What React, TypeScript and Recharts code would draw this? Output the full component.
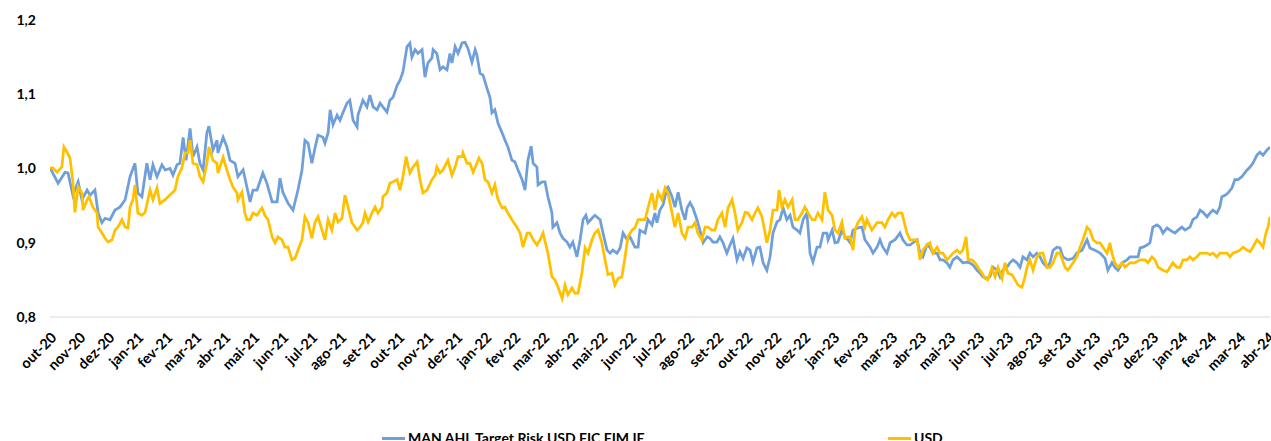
import React from "react";
import { LineChart, Line, XAxis, YAxis, Legend } from "recharts";

const months = [
  "out-20", "nov-20", "dez-20", "jan-21", "fev-21", "mar-21", "abr-21", "mai-21", "jun-21", "jul-21", "ago-21",
  "set-21", "out-21", "nov-21", "dez-21", "jan-22", "fev-22", "mar-22", "abr-22", "mai-22", "jun-22", "jul-22",
  "ago-22", "set-22", "out-22", "nov-22", "dez-22", "jan-23", "fev-23", "mar-23", "abr-23", "mai-23", "jun-23",
  "jul-23", "ago-23", "set-23", "out-23", "nov-23", "dez-23", "jan-24", "fev-24", "mar-24", "abr-24",
];

const yTicks = [0.8, 0.9, 1.0, 1.1, 1.2];

// [months since out-20, value]
const manAhl: [number, number][] = [
  [0.00,1.001],[0.28,0.98],[0.52,0.995],[0.62,0.994],[0.79,0.964],[0.97,0.982],[1.10,0.958],[1.28,0.971],[1.38,0.964],[1.55,0.971],[1.66,0.94],[1.79,0.927],[1.90,0.933],[2.07,0.931],[2.24,0.944],[2.41,0.948],[2.59,0.958],[2.76,0.989],[2.93,1.007],[3.03,0.967],[3.17,0.962],[3.34,1.007],[3.45,0.985],[3.55,1.005],[3.69,0.989],[3.86,1.005],[3.97,0.998],[4.14,1.0],[4.24,0.991],[4.38,1.005],[4.48,1.007],[4.59,1.042],[4.69,1.011],[4.83,1.054],[4.93,1.016],[5.07,1.029],[5.17,1.007],[5.28,0.998],[5.41,1.048],[5.48,1.057],[5.62,1.025],[5.76,1.038],[5.79,1.021],
  [5.97,1.042],[6.10,1.029],[6.21,1.011],[6.38,1.007],[6.48,0.989],[6.66,0.998],[6.79,0.975],[6.90,0.955],[7.00,0.971],[7.14,0.971],[7.34,0.994],[7.48,0.98],[7.66,0.955],[7.83,0.955],[7.93,0.987],[8.03,0.968],[8.21,0.953],[8.38,0.944],[8.55,0.971],[8.69,0.998],[8.79,1.038],[8.90,1.034],[9.03,1.007],[9.14,1.028],[9.24,1.045],[9.41,1.042],[9.48,1.034],[9.59,1.048],[9.66,1.079],[9.76,1.059],[9.90,1.072],[10.00,1.065],[10.10,1.075],[10.24,1.088],[10.34,1.092],[10.45,1.065],[10.59,1.056],[10.62,1.072],[10.79,1.092],[10.93,1.083],[11.03,1.099],[11.14,1.083],[11.28,1.079],[11.38,1.088],[11.48,1.083],[11.62,1.076],[11.72,1.092],[11.83,1.096],[11.97,1.112],[12.07,1.119],[12.17,1.13],[12.31,1.164],[12.41,1.169],[12.48,1.15],[12.59,1.16],[12.69,1.155],[12.83,1.16],[12.93,1.123],[13.03,1.142],
  [13.17,1.149],[13.21,1.16],[13.34,1.155],[13.45,1.133],[13.55,1.137],[13.69,1.133],[13.79,1.155],[13.86,1.142],[13.97,1.164],[14.07,1.155],[14.21,1.169],[14.31,1.17],[14.41,1.162],[14.55,1.143],[14.66,1.16],[14.72,1.153],[14.83,1.128],[14.93,1.126],[15.07,1.108],[15.17,1.096],[15.24,1.075],[15.34,1.079],[15.45,1.061],[15.59,1.048],[15.69,1.038],[15.79,1.029],[15.93,1.011],[16.03,1.009],[16.14,0.998],[16.28,0.985],[16.38,0.971],[16.48,1.011],[16.59,1.03],[16.66,1.007],[16.79,1.002],[16.83,0.978],[16.97,0.982],[17.07,0.982],[17.17,0.962],[17.31,0.94],[17.34,0.921],[17.48,0.927],[17.59,0.913],[17.69,0.906],[17.83,0.901],[17.93,0.894],[18.03,0.901],[18.17,0.881],[18.28,0.904],[18.38,0.931],[18.48,0.937],[18.55,0.927],[18.69,0.933],[18.79,0.937],[18.97,0.931],[19.07,0.913],[19.21,0.89],[19.31,0.886],[19.41,0.89],[19.55,0.886],[19.66,0.893],[19.76,0.913],[19.90,0.904],[20.00,0.908],[20.17,0.894],[20.28,0.894],
  [20.34,0.917],[20.52,0.913],[20.62,0.931],[20.76,0.924],[20.86,0.94],[20.93,0.927],[21.03,0.944],[21.14,0.951],[21.28,0.974],[21.31,0.975],[21.45,0.962],[21.55,0.948],[21.66,0.968],[21.79,0.944],[21.90,0.931],[21.97,0.947],[22.07,0.954],[22.17,0.947],[22.31,0.931],[22.41,0.917],[22.52,0.9],[22.66,0.908],[22.76,0.906],[22.86,0.901],[23.00,0.901],[23.10,0.908],[23.21,0.9],[23.34,0.886],[23.45,0.897],[23.55,0.906],[23.69,0.877],[23.79,0.888],[23.90,0.879],[24.03,0.893],[24.14,0.89],[24.24,0.874],[24.38,0.893],[24.48,0.894],[24.59,0.873],[24.72,0.863],[24.83,0.881],[24.93,0.913],[25.07,0.928],[25.17,0.931],[25.28,0.947],[25.41,0.931],[25.52,0.937],[25.62,0.921],[25.76,0.917],[25.86,0.913],[25.97,0.931],[26.10,0.94],[26.21,0.886],[26.31,0.874],[26.45,0.894],[26.55,0.894],[26.66,0.913],[26.79,0.913],[26.83,0.904],[26.97,0.917],[27.07,0.9],[27.17,0.901],[27.31,0.917],[27.41,0.908],[27.52,0.904],
  [27.59,0.9],[27.69,0.917],[27.86,0.92],[28.00,0.921],[28.10,0.904],[28.28,0.894],[28.38,0.886],[28.52,0.894],[28.62,0.904],[28.72,0.894],[28.86,0.886],[28.97,0.9],[29.14,0.904],[29.31,0.913],[29.41,0.904],[29.55,0.897],[29.66,0.897],[29.76,0.9],[29.90,0.904],[30.00,0.886],[30.10,0.881],[30.24,0.897],[30.34,0.894],[30.45,0.886],[30.59,0.886],[30.69,0.877],[30.79,0.877],[30.93,0.873],[31.03,0.867],[31.14,0.877],[31.28,0.881],[31.38,0.877],[31.48,0.873],[31.62,0.874],[31.72,0.873],[31.83,0.87],[31.97,0.863],[32.07,0.859],[32.17,0.854],[32.31,0.852],[32.41,0.854],[32.52,0.867],[32.66,0.863],[32.76,0.854],[32.86,0.863],[33.00,0.867],[33.10,0.873],[33.21,0.877],[33.34,0.873],[33.45,0.867],[33.55,0.881],[33.69,0.877],[33.79,0.886],[33.90,0.881],[34.03,0.886],[34.14,0.881],[34.24,0.873],[34.38,0.867],[34.48,0.873],[34.59,0.89],[34.72,0.894],
  [34.83,0.893],[34.93,0.881],[35.10,0.877],[35.28,0.879],[35.41,0.886],[35.59,0.89],[35.76,0.904],[35.86,0.893],[36.03,0.89],[36.21,0.886],[36.38,0.879],[36.48,0.863],[36.62,0.873],[36.72,0.867],[36.83,0.863],[36.97,0.873],[37.14,0.877],[37.24,0.881],[37.41,0.881],[37.52,0.881],[37.59,0.893],[37.69,0.894],[37.83,0.897],[37.93,0.9],[38.03,0.921],[38.17,0.924],[38.28,0.921],[38.38,0.913],[38.52,0.92],[38.62,0.917],[38.79,0.913],[38.90,0.917],[39.03,0.921],[39.14,0.917],[39.31,0.921],[39.41,0.931],[39.55,0.935],[39.66,0.944],[39.76,0.941],[39.90,0.935],[40.00,0.94],[40.10,0.944],[40.24,0.94],[40.34,0.948],[40.41,0.962],[40.52,0.964],[40.62,0.967],[40.76,0.974],[40.86,0.985],[40.97,0.985],[41.10,0.989],[41.28,0.998],[41.38,1.002],[41.48,1.007],[41.62,1.018],[41.72,1.022],[41.83,1.018],[41.97,1.025],[42.07,1.029],
];

const usd: [number, number][] = [
  [0.00,1.001],[0.10,1.001],[0.24,0.995],[0.41,1.002],[0.48,1.029],[0.59,1.022],[0.69,1.014],[0.79,0.982],[0.86,0.941],[0.97,0.975],[1.10,0.967],[1.14,0.944],[1.28,0.958],[1.34,0.962],[1.48,0.948],[1.62,0.94],[1.66,0.921],[1.79,0.913],[1.90,0.906],[2.00,0.901],[2.14,0.904],[2.24,0.917],[2.34,0.921],[2.48,0.931],[2.59,0.921],[2.69,0.92],[2.76,0.948],[2.86,0.958],[2.93,0.978],[3.03,0.94],[3.17,0.937],[3.28,0.941],[3.45,0.971],[3.55,0.958],[3.69,0.974],[3.79,0.953],[3.97,0.958],[4.07,0.962],[4.21,0.967],[4.31,0.971],[4.41,0.989],[4.55,1.001],[4.66,1.021],[4.76,1.021],[4.83,1.038],[4.93,1.007],[5.07,1.005],[5.17,0.989],[5.28,0.982],[5.41,1.007],[5.48,1.029],[5.62,1.011],[5.76,1.007],[5.79,0.994],
  [5.97,1.015],[6.10,0.998],[6.21,0.985],[6.31,0.975],[6.45,0.967],[6.48,0.958],[6.62,0.968],[6.72,0.94],[6.79,0.931],[6.90,0.931],[7.00,0.94],[7.14,0.937],[7.31,0.947],[7.41,0.937],[7.52,0.931],[7.66,0.908],[7.76,0.9],[7.86,0.908],[8.00,0.904],[8.10,0.894],[8.21,0.894],[8.34,0.877],[8.45,0.879],[8.55,0.89],[8.69,0.904],[8.79,0.935],[8.90,0.927],[9.03,0.906],[9.14,0.928],[9.24,0.935],[9.38,0.917],[9.48,0.904],[9.59,0.931],[9.72,0.917],[9.83,0.94],[9.93,0.928],[10.07,0.933],[10.17,0.964],[10.28,0.948],[10.41,0.927],[10.59,0.917],[10.69,0.921],[10.79,0.927],[10.86,0.94],[10.97,0.928],[11.10,0.94],[11.21,0.948],[11.31,0.94],[11.45,0.948],[11.48,0.962],[11.62,0.967],[11.72,0.98],[11.83,0.982],[11.97,0.985],[12.07,0.971],[12.17,0.989],[12.28,1.016],[12.34,1.005],[12.41,0.994],[12.52,1.002],[12.66,1.009],[12.76,0.985],[12.86,0.967],[13.00,0.971],
  [13.17,0.985],[13.28,0.991],[13.34,1.002],[13.45,0.994],[13.55,0.998],[13.72,1.011],[13.86,0.991],[13.97,1.002],[14.07,1.016],[14.21,1.016],[14.24,1.021],[14.38,1.007],[14.48,1.007],[14.59,0.995],[14.72,1.007],[14.79,1.014],[14.90,1.007],[15.00,0.985],[15.10,0.982],[15.24,0.967],[15.34,0.978],[15.45,0.958],[15.59,0.947],[15.69,0.948],[15.79,0.94],[15.93,0.931],[16.10,0.921],[16.21,0.913],[16.31,0.894],[16.45,0.913],[16.55,0.913],[16.66,0.904],[16.79,0.897],[16.90,0.904],[17.00,0.913],[17.17,0.886],[17.31,0.854],[17.41,0.85],[17.52,0.84],[17.66,0.825],[17.76,0.843],[17.86,0.83],[18.00,0.839],[18.10,0.832],[18.21,0.832],[18.34,0.859],[18.45,0.893],[18.55,0.886],[18.69,0.904],[18.79,0.913],[18.90,0.917],[19.03,0.9],[19.14,0.877],[19.24,0.857],[19.38,0.859],[19.48,0.843],[19.59,0.852],[19.72,0.854],[19.83,0.881],[19.93,0.908],[20.07,0.917],[20.17,0.92],[20.28,0.931],
  [20.52,0.931],[20.62,0.947],[20.76,0.967],[20.86,0.944],[20.97,0.968],[21.10,0.958],[21.21,0.974],[21.31,0.967],[21.45,0.94],[21.55,0.921],[21.66,0.94],[21.79,0.913],[21.90,0.906],[22.00,0.921],[22.14,0.921],[22.24,0.927],[22.34,0.913],[22.48,0.904],[22.59,0.921],[22.69,0.921],[22.83,0.917],[22.93,0.917],[23.03,0.931],[23.17,0.94],[23.28,0.921],[23.38,0.947],[23.52,0.958],[23.62,0.94],[23.72,0.917],[23.86,0.927],[23.97,0.941],[24.07,0.94],[24.21,0.931],[24.31,0.94],[24.41,0.947],[24.55,0.935],[24.66,0.913],[24.72,0.9],[24.83,0.917],[24.93,0.944],[25.07,0.944],[25.14,0.971],[25.24,0.948],[25.34,0.958],[25.45,0.948],[25.59,0.958],[25.69,0.931],[25.79,0.931],[25.93,0.94],[26.03,0.948],[26.14,0.94],[26.28,0.931],[26.38,0.931],[26.48,0.94],[26.62,0.931],[26.72,0.968],[26.83,0.944],[26.97,0.937],[27.07,0.917],[27.17,0.913],[27.31,0.928],[27.41,0.906],[27.52,0.908],
  [27.59,0.908],[27.69,0.89],[27.76,0.917],[27.86,0.927],[28.00,0.935],[28.10,0.921],[28.17,0.931],[28.34,0.917],[28.52,0.927],[28.69,0.927],[28.79,0.921],[28.90,0.931],[29.03,0.94],[29.14,0.935],[29.24,0.94],[29.38,0.94],[29.55,0.913],[29.66,0.904],[29.76,0.904],[29.90,0.904],[30.00,0.877],[30.10,0.89],[30.24,0.897],[30.34,0.9],[30.45,0.886],[30.59,0.894],[30.69,0.886],[30.79,0.886],[30.93,0.877],[31.03,0.881],[31.14,0.886],[31.28,0.89],[31.38,0.886],[31.48,0.89],[31.59,0.908],[31.66,0.877],[31.79,0.877],[31.90,0.873],[32.00,0.867],[32.14,0.859],[32.24,0.852],[32.34,0.85],[32.48,0.866],[32.59,0.854],[32.69,0.867],[32.83,0.852],[32.93,0.873],[33.03,0.859],[33.17,0.857],[33.28,0.85],[33.38,0.843],[33.52,0.84],[33.62,0.854],[33.69,0.867],[33.79,0.877],[33.90,0.863],[34.03,0.881],[34.14,0.886],[34.24,0.886],[34.38,0.867],[34.48,0.867],[34.59,0.873],[34.72,0.886],
  [34.83,0.886],[35.00,0.867],[35.10,0.863],[35.28,0.873],[35.41,0.881],[35.52,0.894],[35.62,0.904],[35.76,0.921],[35.86,0.917],[35.97,0.904],[36.10,0.9],[36.21,0.9],[36.31,0.894],[36.45,0.886],[36.55,0.9],[36.62,0.886],[36.72,0.873],[36.83,0.867],[36.97,0.873],[37.07,0.867],[37.24,0.873],[37.41,0.873],[37.59,0.877],[37.76,0.877],[37.86,0.873],[38.00,0.881],[38.10,0.877],[38.21,0.867],[38.38,0.863],[38.52,0.861],[38.62,0.867],[38.72,0.873],[38.86,0.867],[38.97,0.867],[39.07,0.877],[39.21,0.877],[39.31,0.881],[39.41,0.877],[39.55,0.881],[39.66,0.886],[39.76,0.886],[39.90,0.886],[40.00,0.884],[40.10,0.886],[40.24,0.881],[40.34,0.886],[40.45,0.886],[40.59,0.886],[40.69,0.881],[40.79,0.886],[40.93,0.888],[41.03,0.89],[41.14,0.894],[41.28,0.89],[41.38,0.888],[41.48,0.894],[41.62,0.904],[41.72,0.9],[41.83,0.894],[41.93,0.913],[42.00,0.921],[42.07,0.935],
];

const manData = manAhl.map(([t, v]) => ({ t, v }));
const usdData = usd.map(([t, v]) => ({ t, v }));
const monthTicks = months.map((_, i) => i);

const FONT = "Lato, 'Open Sans', sans-serif";
const BLUE = "#6F9FDA";
const GOLD = "#FFC000";

const MonthTick = ({ x, y, payload }: any) => (
  <g transform={`translate(${x + 4},${y + 10})`}>
    <text
      x={0}
      y={0}
      dy={5}
      textAnchor="end"
      transform="rotate(-45)"
      fontFamily={FONT}
      fontSize={14.5}
      fontWeight={700}
      fill="#000"
    >
      {months[payload.value]}
    </text>
  </g>
);

const legendLeft = [382, 888];

const renderLegend = ({ payload }: any) => (
  <div style={{ position: "relative", height: 20, fontFamily: FONT }}>
    {(payload || []).map((entry: any, i: number) => (
      <div
        key={entry.value}
        style={{ position: "absolute", left: legendLeft[i], top: 0, display: "flex", alignItems: "center" }}
      >
        <span style={{ display: "inline-block", width: 23, height: 3, background: entry.color, marginRight: 3 }} />
        <span style={{ fontSize: 14, fontWeight: 700, color: "#000", lineHeight: "20px" }}>{entry.value}</span>
      </div>
    ))}
  </div>
);

export default function App() {
  return (
    <div style={{ position: "absolute", left: 0, top: 0, background: "#fff" }}>
      <LineChart width={1271} height={441} margin={{ top: 20, right: 1, bottom: 0, left: 0 }}>
        <XAxis
          dataKey="t"
          type="number"
          domain={[0, 42.07]}
          ticks={monthTicks}
          interval={0}
          tickLine={false}
          axisLine={{ stroke: "#d9d9d9", strokeWidth: 1 }}
          tick={<MonthTick />}
          height={124}
          allowDataOverflow
        />
        <YAxis
          type="number"
          domain={[0.8, 1.2]}
          ticks={yTicks}
          width={50}
          axisLine={false}
          tickLine={false}
          tickSize={0}
          tickMargin={14}
          tickFormatter={(v: number) => v.toFixed(1).replace(".", ",")}
          tick={{ fontFamily: FONT, fontSize: 14, fontWeight: 700, fill: "#000" }}
        />
        <Legend
          verticalAlign="middle"
          align="center"
          layout="horizontal"
          content={renderLegend}
          wrapperStyle={{ top: 428, left: 0, width: 1271 }}
        />
        <Line
          data={manData}
          dataKey="v"
          name="MAN AHL Target Risk USD FIC FIM IE"
          stroke={BLUE}
          strokeWidth={2.75}
          dot={false}
          type="linear"
          isAnimationActive={false}
        />
        <Line
          data={usdData}
          dataKey="v"
          name="USD"
          stroke={GOLD}
          strokeWidth={2.75}
          dot={false}
          type="linear"
          isAnimationActive={false}
        />
      </LineChart>
    </div>
  );
}
